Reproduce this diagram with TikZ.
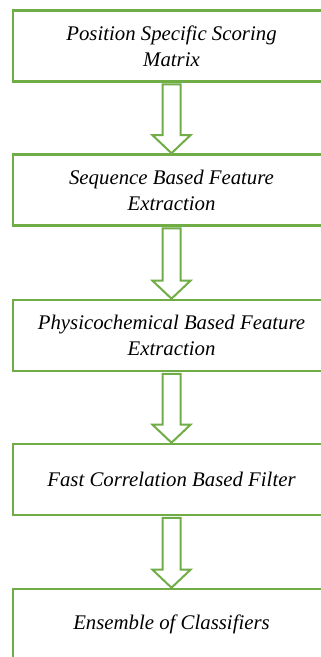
\documentclass[tikz,border=0pt]{standalone}
\usepackage{fontspec}
\setmainfont{Liberation Serif}
\usetikzlibrary{calc}
\definecolor{leafgreen}{HTML}{70AD47}
\tikzset{
  stage/.style={draw=leafgreen, line width=2.6pt, rectangle, inner sep=0pt,
    minimum width=317pt, minimum height=71pt, align=center,
    font=\fontsize{20.8}{26}\selectfont\itshape},
  blockarrow/.style={draw=leafgreen, line width=2pt, fill=white, line join=miter,
    to path={
      ($(\tikztostart)+(-9pt,-1.5pt)$) -- ($(\tikztotarget)+(-9pt,18pt)$)
      -- ($(\tikztotarget)+(-19pt,18pt)$) -- (\tikztotarget)
      -- ($(\tikztotarget)+(19pt,18pt)$) -- ($(\tikztotarget)+(9pt,18pt)$)
      -- ($(\tikztostart)+(9pt,-1.5pt)$) -- cycle}}
}
\begin{document}
\begin{tikzpicture}[x=1pt,y=-1pt]
  \useasboundingbox (0,0) rectangle (321,657);
  \clip (0,0) rectangle (321,657);
  \node[stage] (pssm) at (171.5,46.1) {Position Specific Scoring\\Matrix};
  \node[stage] (seq)  at (171.5,190)  {Sequence Based Feature\\Extraction};
  \node[stage] (phys) at (171.5,335.5) {Physicochemical Based Feature\\Extraction};
  \node[stage] (fcbf) at (171.5,479.5) {Fast Correlation Based Filter};
  \node[stage] (ens)  at (171.5,624.5) {Ensemble of Classifiers};
  \draw[blockarrow] (pssm.south) to (seq.north);
  \draw[blockarrow] (seq.south)  to (phys.north);
  \draw[blockarrow] (phys.south) to (fcbf.north);
  \draw[blockarrow] (fcbf.south) to (ens.north);
\end{tikzpicture}
\end{document}
